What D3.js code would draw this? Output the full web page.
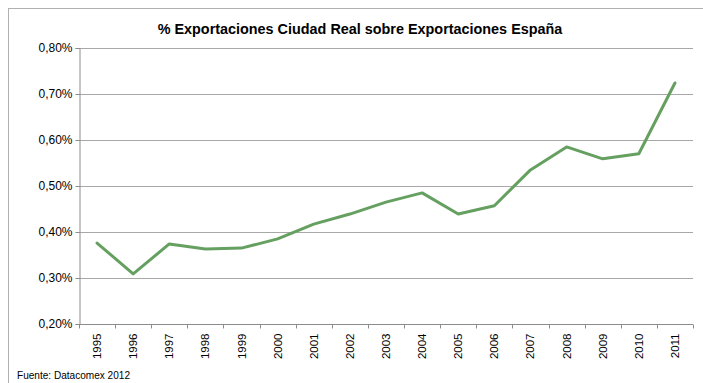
<!DOCTYPE html>
<html>
<head>
<meta charset="utf-8">
<script src="https://cdn.jsdelivr.net/npm/d3@7"></script>
<style>
  html, body { margin: 0; padding: 0; background: #fff; }
  svg { display: block; }
  text { font-family: "Liberation Sans", Arial, sans-serif; fill: #000; }
</style>
</head>
<body>
<svg id="chart" width="703" height="383"></svg>
<script>
// Share of Ciudad Real exports over total Spanish exports (%)
const years = ["1995","1996","1997","1998","1999","2000","2001","2002","2003",
               "2004","2005","2006","2007","2008","2009","2010","2011"];
const share = [0.376, 0.309, 0.374, 0.363, 0.365, 0.385, 0.417, 0.439, 0.465,
               0.485, 0.439, 0.457, 0.535, 0.585, 0.559, 0.570, 0.724];
const yTicks = [0.2, 0.3, 0.4, 0.5, 0.6, 0.7, 0.8];
const titleText = "% Exportaciones Ciudad Real sobre Exportaciones España";
const sourceText = "Fuente: Datacomex 2012";

const svg = d3.select("#chart");
const plot = { left: 79, right: 693, top: 48, bottom: 324 };

// Chart frame
svg.append("rect")
  .attr("x", 8.5).attr("y", 8.5)
  .attr("width", 720).attr("height", 400)
  .attr("fill", "none").attr("stroke", "#b0b0b0").attr("stroke-width", 1);

const x = d3.scaleBand().domain(years).range([plot.left, plot.right]);
const y = d3.scaleLinear().domain([0.2, 0.8]).range([plot.bottom, plot.top]);

const fmt = v => d3.format(".2f")(v).replace(".", ",") + "%";

// Horizontal gridlines
svg.append("g").selectAll("line").data(yTicks.slice(1)).join("line")
  .attr("x1", plot.left).attr("x2", plot.right)
  .attr("y1", d => Math.round(y(d)) + 0.5).attr("y2", d => Math.round(y(d)) + 0.5)
  .attr("stroke", "#a8a8a8").attr("stroke-width", 1.2);

// Y axis
const yAxis = svg.append("g")
  .attr("transform", `translate(${plot.left + 0.5},0)`)
  .call(d3.axisLeft(y).tickValues(yTicks).tickFormat(fmt).tickSize(4).tickPadding(3));
yAxis.select(".domain").attr("stroke", "#8c8c8c");
yAxis.selectAll(".tick line").attr("stroke", "#8c8c8c");
yAxis.selectAll(".tick text").attr("font-size", 12).style("font-family", '"Liberation Sans", Arial, sans-serif');

// X axis: tick marks at category boundaries
const xAxis = svg.append("g")
  .attr("transform", `translate(0,${plot.bottom + 0.5})`);
xAxis.append("line")
  .attr("x1", plot.left).attr("x2", plot.right)
  .attr("stroke", "#8c8c8c");
xAxis.selectAll("line.tk").data(years.concat(["end"])).join("line")
  .attr("class", "tk")
  .attr("x1", (d, i) => Math.round(plot.left + i * x.step()) + 0.5)
  .attr("x2", (d, i) => Math.round(plot.left + i * x.step()) + 0.5)
  .attr("y1", 0).attr("y2", 4)
  .attr("stroke", "#8c8c8c");
xAxis.selectAll("text").data(years).join("text")
  .attr("transform", d => `translate(${x(d) + x.bandwidth() / 2 + 4},${9}) rotate(-90)`)
  .attr("text-anchor", "end")
  .attr("font-size", 11.5)
  .text(d => d);

// Data line
const line = d3.line()
  .x((d, i) => x(years[i]) + x.bandwidth() / 2)
  .y(d => y(d));
svg.append("path")
  .datum(share)
  .attr("d", line)
  .attr("fill", "none")
  .attr("stroke", "#66a061")
  .attr("stroke-width", 3)
  .attr("stroke-linejoin", "round")
  .attr("stroke-linecap", "round");

// Title
svg.append("text")
  .attr("x", 360).attr("y", 34)
  .attr("text-anchor", "middle")
  .attr("font-size", 14.4)
  .attr("font-weight", "bold")
  .text(titleText);

// Source note
svg.append("text")
  .attr("x", 17).attr("y", 379)
  .attr("font-size", 11)
  .attr("textLength", 113)
  .attr("lengthAdjust", "spacingAndGlyphs")
  .text(sourceText);
</script>
</body>
</html>
